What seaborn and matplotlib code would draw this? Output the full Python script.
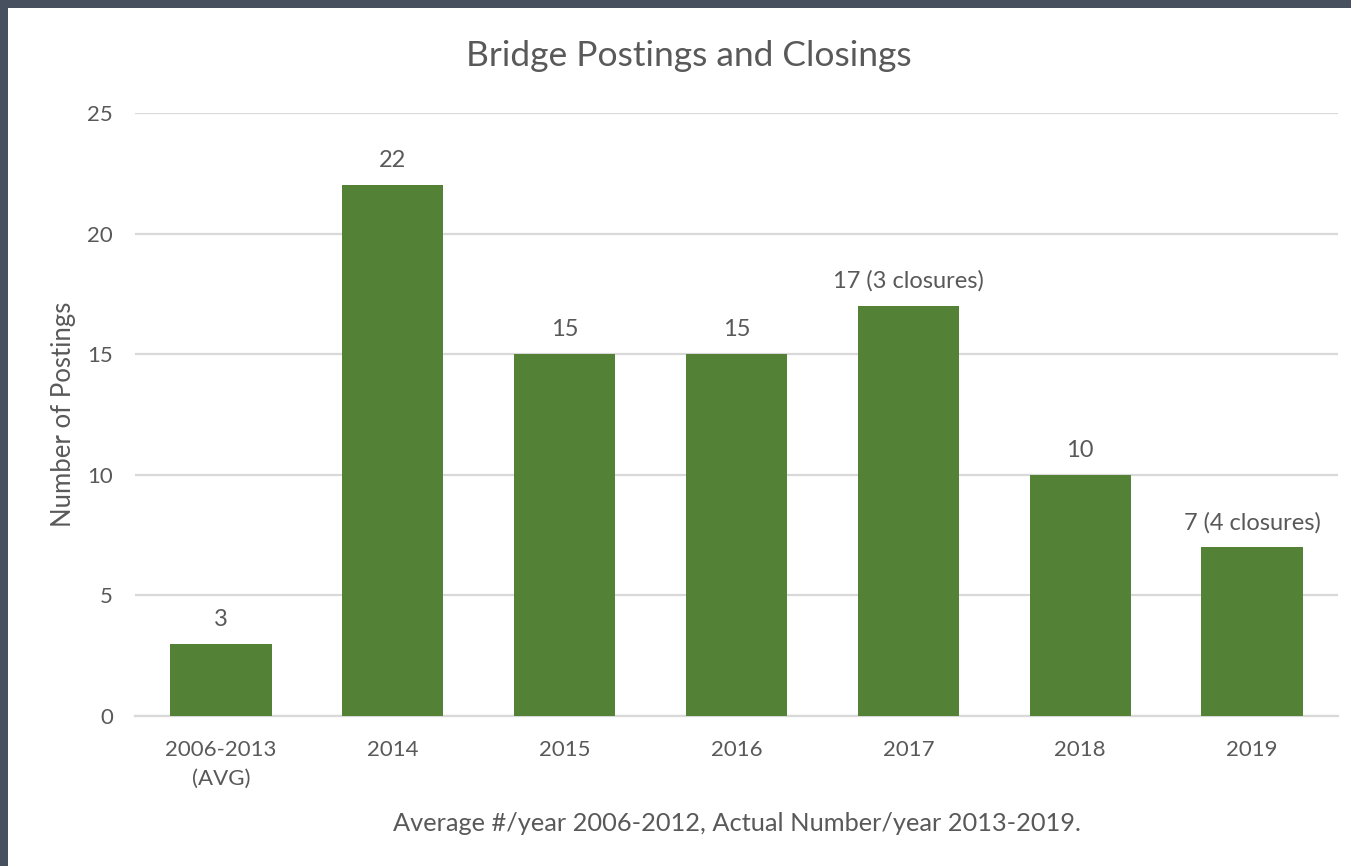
import matplotlib
matplotlib.use("Agg")
import matplotlib.pyplot as plt
from matplotlib.patches import Rectangle
import seaborn as sns
import pandas as pd

categories = ["2006-2013\n(AVG)", "2014", "2015", "2016", "2017", "2018", "2019"]
postings = [3, 22, 15, 15, 17, 10, 7]
labels = ["3", "22", "15", "15", "17 (3 closures)", "10", "7 (4 closures)"]
y_ticks = [0, 5, 10, 15, 20, 25]

sns.set_theme(style="white")
plt.rcParams["font.family"] = ["Lato", "DejaVu Sans"]

TEXT = "#595959"
BAR = "#538135"

df = pd.DataFrame({"period": categories, "postings": postings})

fig = plt.figure(figsize=(13.51, 8.66), dpi=100)
fig.patch.set_facecolor("white")
# dark window frame along the top and left edges
fig.patches.append(Rectangle((0, 1 - 8 / 866), 1, 8 / 866, transform=fig.transFigure,
                             facecolor="#47505f", edgecolor="none", zorder=10))
fig.patches.append(Rectangle((0, 0), 8 / 1351, 1, transform=fig.transFigure,
                             facecolor="#47505f", edgecolor="none", zorder=10))

ax = fig.add_axes([135 / 1351, 1 - 716 / 866, (1338 - 135) / 1351, (716 - 113) / 866])
sns.barplot(data=df, x="period", y="postings", color=BAR, saturation=1,
            width=0.59, linewidth=0, ax=ax, zorder=3)

ax.set_xlim(-0.5, len(categories) - 0.5)
ax.set_ylim(0, 25)
ax.set_yticks(y_ticks)
ax.set_yticklabels([str(t) for t in y_ticks])
ax.yaxis.grid(True, color="#d9d9d9", linewidth=1.6, zorder=0)
ax.set_axisbelow(True)
for side in ["top", "right", "left"]:
    ax.spines[side].set_visible(False)
ax.spines["bottom"].set_color("#d9d9d9")
ax.spines["bottom"].set_linewidth(1.6)
ax.tick_params(axis="both", length=0, labelsize=16, colors=TEXT)
ax.tick_params(axis="x", pad=17)
ax.tick_params(axis="y", pad=16)
for t in ax.get_xticklabels():
    t.set_linespacing(1.55)

for patch, lab in zip(ax.patches, labels):
    ax.annotate(lab, (patch.get_x() + patch.get_width() / 2, patch.get_height()),
                xytext=(0, 10), textcoords="offset points", ha="center", va="bottom",
                fontsize=17, color=TEXT)

ax.set_ylabel("Number of Postings", fontsize=18.5, color=TEXT, labelpad=8)
ax.set_xlabel("Average #/year 2006-2012, Actual Number/year 2013-2019.",
              fontsize=18.3, color=TEXT, labelpad=17)
fig.text(689 / 1351, 1 - 56 / 866, "Bridge Postings and Closings", ha="center",
         va="center", fontsize=25.5, color=TEXT)

fig.savefig("out.png", dpi=100, facecolor="white")
